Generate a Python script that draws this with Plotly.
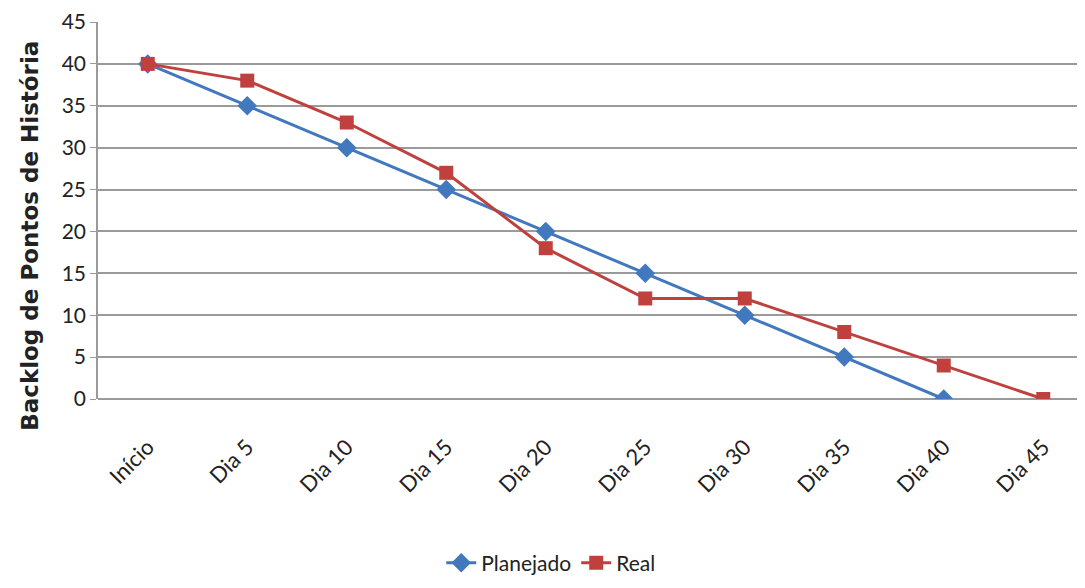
import plotly.graph_objects as go

categories = ["Início", "Dia 5", "Dia 10", "Dia 15", "Dia 20", "Dia 25", "Dia 30", "Dia 35", "Dia 40", "Dia 45"]
planejado = [40, 35, 30, 25, 20, 15, 10, 5, 0, None]
real = [40, 38, 33, 27, 18, 12, 12, 8, 4, 0]
y_ticks = [0, 5, 10, 15, 20, 25, 30, 35, 40, 45]
y_title = "Backlog de Pontos de História"

font_family = "Lato, Open Sans, sans-serif"

fig = go.Figure()
fig.add_trace(go.Scatter(
    x=categories, y=planejado, name="Planejado", mode="lines+markers",
    line=dict(color="#4178BE", width=3),
    marker=dict(symbol="diamond", size=15, color="#4178BE"),
    connectgaps=False,
))
fig.add_trace(go.Scatter(
    x=categories, y=real, name="Real", mode="lines+markers",
    line=dict(color="#C0403D", width=3),
    marker=dict(symbol="square", size=14, color="#C0403D"),
))

fig.add_annotation(
    text="<b>" + y_title + "</b>", textangle=-90,
    xref="paper", yref="paper", x=-0.0683, y=0.433,
    xanchor="center", yanchor="middle", showarrow=False,
    font=dict(size=23, family="DejaVu Sans", color="#222222"),
)

fig.update_layout(
    width=1085, height=588,
    margin=dict(l=90, r=0, t=12, b=197),
    plot_bgcolor="white", paper_bgcolor="white",
    font=dict(family=font_family, size=20, color="#222222"),
    showlegend=True,
    legend=dict(orientation="h", x=0.455, xanchor="center", y=-0.435, yanchor="middle",
                font=dict(size=21, color="#222222")),
    xaxis=dict(
        type="category", tickangle=-45, showgrid=False,
        showline=False, ticks="", tickfont=dict(size=22),
        ticklabelstandoff=30,
        range=[-0.5, 9.5],
    ),
    yaxis=dict(
        range=[0, 45], tickvals=y_ticks, showgrid=True, gridcolor="#9a9a9a", gridwidth=1.5,
        showline=True, linecolor="#9a9a9a", linewidth=1.5, zeroline=True,
        zerolinecolor="#9a9a9a", zerolinewidth=1.5,
        ticks="outside", ticklen=6, tickcolor="#9a9a9a",
        ticklabeloverflow="allow",
        tickfont=dict(size=21),
    ),
)

fig.write_html("out.html")
